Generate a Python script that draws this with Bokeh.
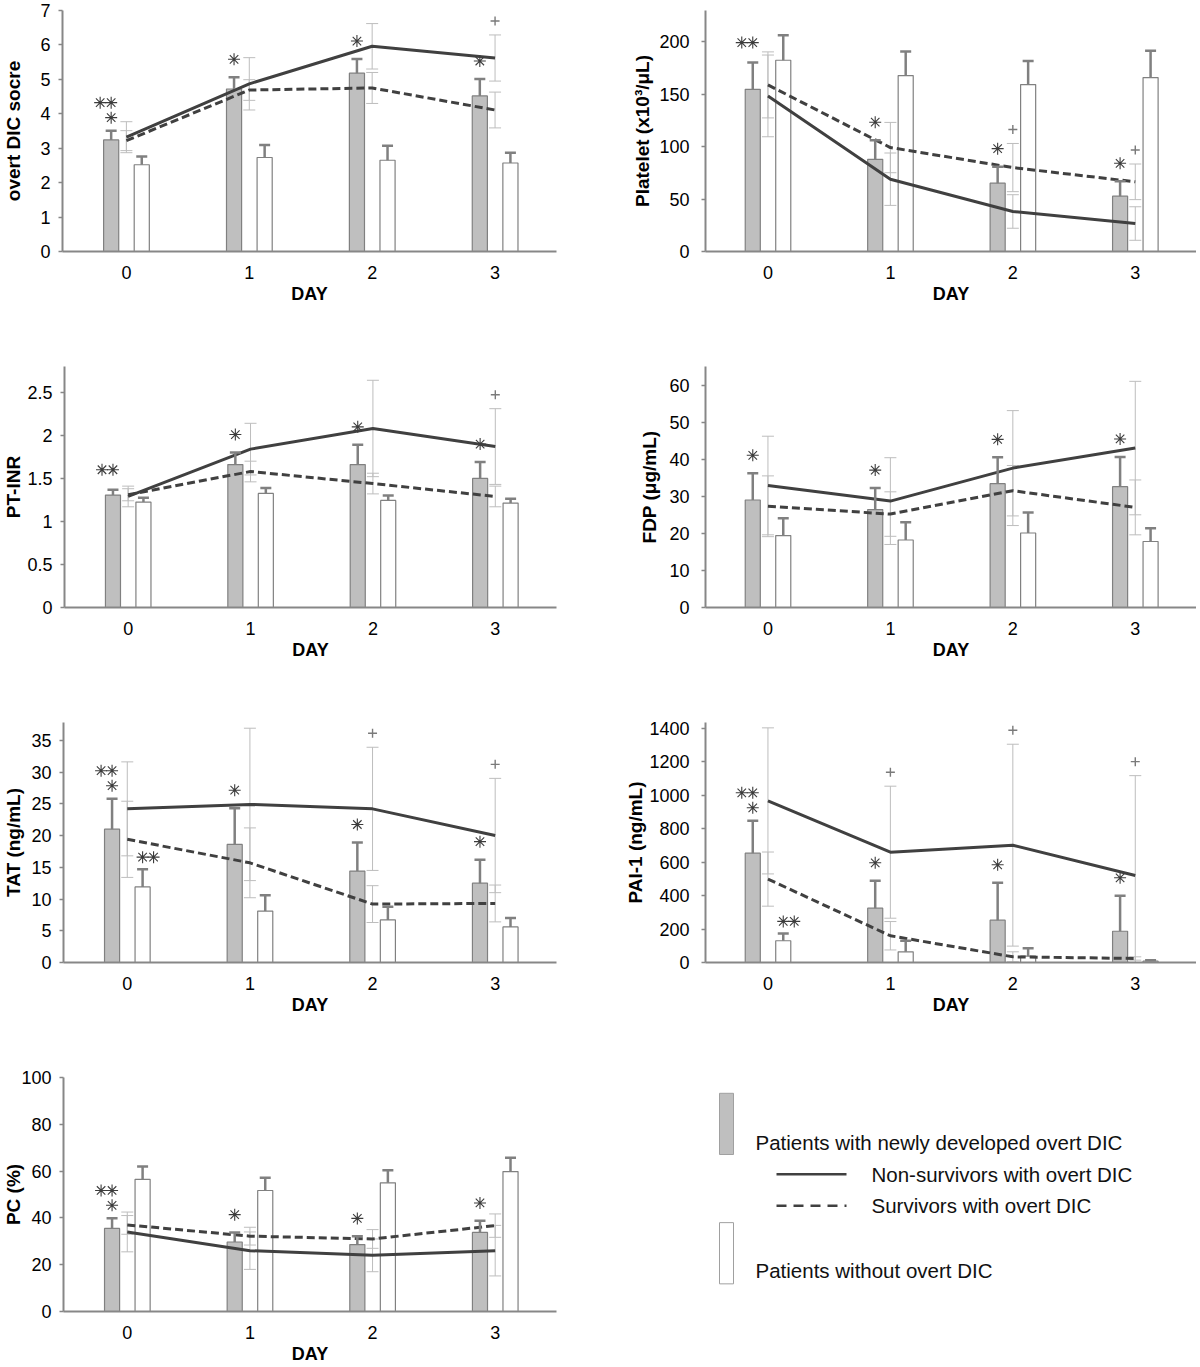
import numpy as np
from bokeh.plotting import figure
from bokeh.layouts import column, row
from bokeh.models import ColumnDataSource, Whisker, TeeHead, Range1d, FixedTicker
from bokeh.core.properties import value
from bokeh.embed import file_html
from bokeh.resources import INLINE

# ---------------- data ----------------
days = [0, 1, 2, 3]
day_labels = ["0", "1", "2", "3"]

# overt DIC score
dic_new = [3.24, 4.72, 5.18, 4.52]
dic_new_err = [0.27, 0.34, 0.41, 0.49]
dic_without = [2.52, 2.73, 2.65, 2.57]
dic_without_err = [0.24, 0.36, 0.42, 0.30]
dic_nonsurv = [3.32, 4.87, 5.96, 5.62]
dic_nonsurv_err = [0.45, 0.76, 0.66, 0.67]
dic_surv = [3.22, 4.69, 4.75, 4.11]
dic_surv_err = [0.29, 0.30, 0.45, 0.52]
dic_ticks = [0, 1, 2, 3, 4, 5, 6, 7]
dic_tick_labels = ["0", "1", "2", "3", "4", "5", "6", "7"]

# Platelet
plt_new = [154.8, 88.0, 65.2, 52.8]
plt_new_err = [25.5, 18.2, 15.8, 14.2]
plt_without = [182.5, 167.9, 159.3, 166.0]
plt_without_err = [23.9, 22.9, 22.6, 25.7]
plt_nonsurv = [148.5, 69.0, 38.2, 26.7]
plt_nonsurv_err = [39.0, 25.0, 16.0, 16.0]
plt_surv = [159.0, 99.2, 80.1, 66.5]
plt_surv_err = [31.5, 24.0, 23.0, 17.0]
plt_ticks = [0, 50, 100, 150, 200]
plt_tick_labels = ["0", "50", "100", "150", "200"]

# PT-INR
inr_new = [1.306, 1.66, 1.66, 1.50]
inr_new_err = [0.062, 0.14, 0.23, 0.19]
inr_without = [1.225, 1.325, 1.244, 1.213]
inr_without_err = [0.05, 0.062, 0.058, 0.051]
inr_nonsurv = [1.29, 1.84, 2.08, 1.87]
inr_nonsurv_err = [0.12, 0.30, 0.56, 0.44]
inr_surv = [1.31, 1.58, 1.44, 1.29]
inr_surv_err = [0.07, 0.12, 0.12, 0.12]
inr_ticks = [0, 0.5, 1, 1.5, 2, 2.5]
inr_tick_labels = ["0", "0.5", "1", "1.5", "2", "2.5"]

# FDP
fdp_new = [29.0, 26.4, 33.4, 32.6]
fdp_new_err = [7.2, 5.8, 7.1, 8.0]
fdp_without = [19.4, 18.2, 20.1, 17.8]
fdp_without_err = [4.7, 4.8, 5.5, 3.6]
fdp_nonsurv = [32.9, 28.7, 37.6, 43.0]
fdp_nonsurv_err = [13.3, 11.7, 15.5, 18.0]
fdp_surv = [27.3, 25.2, 31.5, 27.0]
fdp_surv_err = [8.2, 6.0, 6.8, 7.4]
fdp_ticks = [0, 10, 20, 30, 40, 50, 60]
fdp_tick_labels = ["0", "10", "20", "30", "40", "50", "60"]

# TAT
tat_new = [21.0, 18.6, 14.4, 12.5]
tat_new_err = [4.8, 5.7, 4.5, 3.7]
tat_without = [11.9, 8.1, 6.7, 5.6]
tat_without_err = [2.8, 2.5, 2.1, 1.4]
tat_nonsurv = [24.2, 24.9, 24.2, 20.0]
tat_nonsurv_err = [7.4, 12.0, 9.7, 9.0]
tat_surv = [19.4, 15.7, 9.2, 9.3]
tat_surv_err = [6.0, 5.5, 2.9, 2.9]
tat_ticks = [0, 5, 10, 15, 20, 25, 30, 35]
tat_tick_labels = ["0", "5", "10", "15", "20", "25", "30", "35"]

# PAI-1
pai_new = [654, 325, 253, 187]
pai_new_err = [194, 164, 224, 212]
pai_without = [130, 64, 38, 8]
pai_without_err = [44, 66, 48, 6]
pai_nonsurv = [967, 660, 702, 521]
pai_nonsurv_err = [437, 395, 604, 597]
pai_surv = [499, 160, 34, 24]
pai_surv_err = [162, 85, 30, 10]
pai_ticks = [0, 200, 400, 600, 800, 1000, 1200, 1400]
pai_tick_labels = ["0", "200", "400", "600", "800", "1000", "1200", "1400"]

# PC
pc_new = [35.5, 29.7, 28.6, 33.8]
pc_new_err = [4.4, 4.1, 3.6, 5.0]
pc_without = [56.5, 51.7, 55.0, 59.8]
pc_without_err = [5.5, 5.5, 5.4, 5.9]
pc_nonsurv = [34.0, 26.0, 24.0, 26.0]
pc_nonsurv_err = [8.5, 8.0, 7.0, 10.8]
pc_surv = [37.0, 32.2, 31.0, 36.7]
pc_surv_err = [4.0, 3.8, 4.0, 5.0]
pc_ticks = [0, 20, 40, 60, 80, 100]
pc_tick_labels = ["0", "20", "40", "60", "80", "100"]

# significance marks
dic_gray_marks = ["**\n*", "*", "*", "*"]
plt_gray_marks = ["**", "*", "*", "*"]
inr_gray_marks = ["**", "*", "*", "*"]
fdp_gray_marks = ["*", "*", "*", "*"]
tat_gray_marks = ["**\n*", "*", "*", "*"]
pai_gray_marks = ["**\n*", "*", "*", "*"]
pc_gray_marks = ["**\n*", "*", "*", "*"]
tat_white_marks = ["**", "", "", ""]
pai_white_marks = ["**", "", "", ""]
no_marks = ["", "", "", ""]
dic_plus_days = [3]
plt_plus_days = [2, 3]
inr_plus_days = [3]
fdp_plus_days = []
tat_plus_days = [2, 3]
pai_plus_days = [1, 2, 3]
pc_plus_days = []

legend_labels = ["Patients with newly developed overt DIC",
                 "Non-survivors with overt DIC",
                 "Survivors with overt DIC",
                 "Patients without overt DIC"]

# ---------------- style ----------------
FONT = "Liberation Sans"
AXIS_GRAY = "#878787"
BAR_EDGE = "#808080"
GRAY_FILL = "#bfbfbf"
LINE_ERR = "#bdbdbd"
LINE_DARK = "#404040"
STAR = "#3c3c3c"
PLUS = "#7a7a7a"
GRAY_DX = -0.124
WHITE_DX = 0.125
BAR_W = 0.123

ROWS = [dict(height=356, top=10, bottom=105),
        dict(height=356, top=10, bottom=105),
        dict(height=356, top=10, bottom=106),
        dict(height=298, top=9, bottom=52)]
LEFT = dict(width=600, left=62, right=44, xr=(-0.52, 3.5), tick_standoff=8)
RIGHT = dict(width=596, left=105, right=0, xr=(-0.51, 3.5), tick_standoff=12)


def make_panel(ylabel, label_standoff, ymax, yticks, ytick_labels, new, new_err,
               wo, wo_err, non, non_err, surv, surv_err,
               gray_marks, white_marks, plus_days, col, rw):
    p = figure(width=col["width"], height=rw["height"], output_backend="svg",
               toolbar_location=None, x_range=Range1d(*col["xr"]),
               y_range=Range1d(0, ymax), min_border_left=col["left"],
               min_border_right=col["right"], min_border_top=rw["top"],
               min_border_bottom=rw["bottom"])
    p.grid.visible = False
    p.outline_line_color = None

    fw = col["width"] - col["left"] - col["right"]
    fh = rw["height"] - rw["top"] - rw["bottom"]
    ppx = (col["xr"][1] - col["xr"][0]) / fw
    ppy = ymax / fh

    d = np.array(days, dtype=float)
    gx = d + GRAY_DX
    wx = d + WHITE_DX
    new = np.array(new); new_err = np.array(new_err)
    wo = np.array(wo); wo_err = np.array(wo_err)
    non = np.array(non); non_err = np.array(non_err)
    surv = np.array(surv); surv_err = np.array(surv_err)

    # line error bars (survivor groups)
    for vals, errs in ((non, non_err), (surv, surv_err)):
        src = ColumnDataSource(dict(x=d, upper=vals + errs,
                                    lower=np.maximum(vals - errs, 0)))
        w = Whisker(source=src, base="x", upper="upper", lower="lower",
                    line_color=LINE_ERR, line_width=1,
                    upper_head=TeeHead(size=12, line_color=LINE_ERR, line_width=1),
                    lower_head=TeeHead(size=12, line_color=LINE_ERR, line_width=1))
        p.add_layout(w)

    # bars
    p.vbar(x=gx, top=new, width=BAR_W, bottom=0, fill_color=GRAY_FILL,
           line_color=BAR_EDGE, line_width=1.2)
    p.vbar(x=wx, top=wo, width=BAR_W, bottom=0, fill_color="white",
           line_color=BAR_EDGE, line_width=1.2)
    for xs, vals, errs in ((gx, new, new_err), (wx, wo, wo_err)):
        src = ColumnDataSource(dict(x=xs, top=vals, upper=vals + errs))
        w = Whisker(source=src, base="x", upper="upper", lower="top",
                    line_color=BAR_EDGE, line_width=2.5,
                    upper_head=TeeHead(size=11, line_color=BAR_EDGE, line_width=2.5),
                    lower_head=None, level="glyph")
        p.add_layout(w)

    # group lines
    p.line(d, non, line_color=LINE_DARK, line_width=3)
    p.line(d, surv, line_color=LINE_DARK, line_width=3, line_dash="8 4")

    # significance marks (asterisks)
    sx, sy = [], []
    for x, t, m in zip(gx, new + new_err, gray_marks):
        if m == "*":
            sx.append(x); sy.append(t + 18 * ppy)
        elif m == "**\n*":
            sx += [x, x - 11 * ppx, x]
            sy += [t + 13 * ppy, t + 28 * ppy, t + 28 * ppy]
        elif m == "**":
            sx += [x - 11 * ppx, x]
            sy += [t + 20 * ppy] * 2
    for x, t, m in zip(wx, wo + wo_err, white_marks):
        if m == "**":
            sx += [x, x + 11 * ppx]
            sy += [t + 12 * ppy] * 2
    if sx:
        p.scatter(sx, sy, marker="asterisk", size=12, line_color=STAR, line_width=1.1)

    if plus_days:
        px = [days[i] for i in plus_days]
        py = [max(non[i] + non_err[i], surv[i] + surv_err[i]) + 14 * ppy for i in plus_days]
        p.scatter(px, py, marker="cross", size=9, line_color=PLUS, line_width=1.4)

    # axes
    xa = p.xaxis[0]
    xa.ticker = FixedTicker(ticks=days)
    xa.major_label_overrides = {k: v for k, v in zip(days, day_labels)}
    xa.major_tick_out = 0
    xa.major_tick_in = 0
    xa.minor_tick_out = 0
    xa.minor_tick_in = 0
    xa.axis_line_color = AXIS_GRAY
    xa.axis_line_width = 2
    xa.major_label_standoff = 14
    xa.major_label_text_font = FONT
    xa.major_label_text_font_size = "18px"
    xa.major_label_text_color = "black"
    xa.axis_label = "DAY"
    xa.axis_label_standoff = 2
    xa.axis_label_text_font = FONT
    xa.axis_label_text_font_size = "18px"
    xa.axis_label_text_font_style = "bold"
    xa.axis_label_text_color = "black"

    ya = p.yaxis[0]
    ya.ticker = FixedTicker(ticks=yticks)
    ya.major_label_overrides = {k: v for k, v in zip(yticks, ytick_labels)}
    ya.major_tick_out = 4
    ya.major_tick_in = 0
    ya.minor_tick_out = 0
    ya.minor_tick_in = 0
    ya.major_tick_line_color = AXIS_GRAY
    ya.major_tick_line_width = 1.5
    ya.axis_line_color = AXIS_GRAY
    ya.axis_line_width = 2
    ya.major_label_standoff = col["tick_standoff"]
    ya.major_label_text_font = FONT
    ya.major_label_text_font_size = "18px"
    ya.major_label_text_color = "black"
    ya.axis_label = ylabel
    ya.axis_label_standoff = label_standoff
    ya.axis_label_text_font = FONT
    ya.axis_label_text_font_size = "19px"
    ya.axis_label_text_font_style = "bold"
    ya.axis_label_text_color = "black"
    return p


p1 = make_panel("overt DIC socre", 13, 7, dic_ticks, dic_tick_labels,
                dic_new, dic_new_err, dic_without, dic_without_err, dic_nonsurv,
                dic_nonsurv_err, dic_surv, dic_surv_err, dic_gray_marks, no_marks,
                dic_plus_days, LEFT, ROWS[0])
p2 = make_panel("Platelet (x10³/μL)", 3, 230, plt_ticks, plt_tick_labels,
                plt_new, plt_new_err, plt_without, plt_without_err, plt_nonsurv,
                plt_nonsurv_err, plt_surv, plt_surv_err, plt_gray_marks, no_marks,
                plt_plus_days, RIGHT, ROWS[0])
p3 = make_panel("PT-INR", 0, 2.8, inr_ticks, inr_tick_labels,
                inr_new, inr_new_err, inr_without, inr_without_err, inr_nonsurv,
                inr_nonsurv_err, inr_surv, inr_surv_err, inr_gray_marks, no_marks,
                inr_plus_days, LEFT, ROWS[1])
p4 = make_panel("FDP (μg/mL)", 6, 65, fdp_ticks, fdp_tick_labels,
                fdp_new, fdp_new_err, fdp_without, fdp_without_err, fdp_nonsurv,
                fdp_nonsurv_err, fdp_surv, fdp_surv_err, fdp_gray_marks, no_marks,
                fdp_plus_days, RIGHT, ROWS[1])
p5 = make_panel("TAT (ng/mL)", 4, 37.8, tat_ticks, tat_tick_labels,
                tat_new, tat_new_err, tat_without, tat_without_err, tat_nonsurv,
                tat_nonsurv_err, tat_surv, tat_surv_err, tat_gray_marks, tat_white_marks,
                tat_plus_days, LEFT, ROWS[2])
p6 = make_panel("PAI-1 (ng/mL)", 0, 1436, pai_ticks, pai_tick_labels,
                pai_new, pai_new_err, pai_without, pai_without_err, pai_nonsurv,
                pai_nonsurv_err, pai_surv, pai_surv_err, pai_gray_marks, pai_white_marks,
                pai_plus_days, RIGHT, ROWS[2])
p7 = make_panel("PC (%)", -6, 100, pc_ticks, pc_tick_labels,
                pc_new, pc_new_err, pc_without, pc_without_err, pc_nonsurv,
                pc_nonsurv_err, pc_surv, pc_surv_err, pc_gray_marks, no_marks,
                pc_plus_days, LEFT, ROWS[3])

# ---------------- legend panel (page-pixel frame, aligned with PC row) ----------------
R4 = ROWS[3]
ROW4_Y = sum(r["height"] for r in ROWS[:3])
FT = ROW4_Y + R4["top"]
FB = ROW4_Y + R4["height"] - R4["bottom"]
LW = RIGHT["width"]
leg = figure(width=LW, height=R4["height"], output_backend="svg", toolbar_location=None,
             x_range=Range1d(600, 600 + LW), y_range=Range1d(FB, FT),
             min_border_left=0, min_border_right=0,
             min_border_top=R4["top"], min_border_bottom=R4["bottom"])
leg.axis.visible = False
leg.grid.visible = False
leg.outline_line_color = None
leg.quad(left=[719], right=[733], top=[1093], bottom=[1155], fill_color=GRAY_FILL,
         line_color="#a0a0a0", line_width=1)
leg.quad(left=[719], right=[733], top=[1224], bottom=[1286], fill_color="white",
         line_color="#a0a0a0", line_width=1)
leg.line([776, 846], [1175, 1175], line_color=LINE_DARK, line_width=2.5)
leg.line([776, 846], [1207, 1207], line_color=LINE_DARK, line_width=2.5, line_dash="10 7")
lt = dict(text_font=value(FONT), text_font_size="20.5px", text_color="#111111",
          text_baseline="middle", text_align="left")
leg.text(x=[755, 871, 871, 755], y=[1143, 1175, 1207, 1272], text=legend_labels, **lt)

layout = column(row(p1, p2), row(p3, p4), row(p5, p6), row(p7, leg))
open("out.html", "w").write(file_html(layout, INLINE))
